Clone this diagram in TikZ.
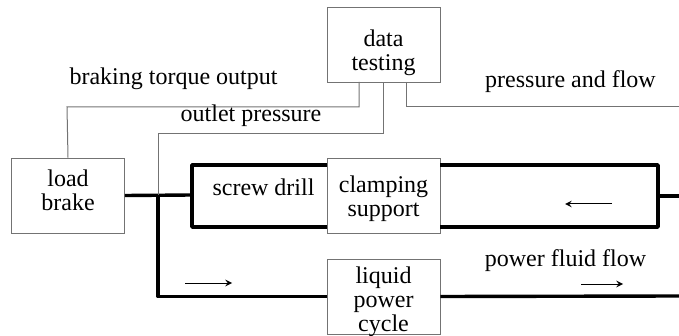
\documentclass[tikz,border=0pt]{standalone}
\usepackage{fontspec}
\setmainfont{Liberation Serif}
\usepackage{tikz}
\usetikzlibrary{calc}

\begin{document}
\begin{tikzpicture}[x=0.5pt, y=-0.5pt,
    block/.style={draw=black!55, minimum width=56.5pt, minimum height=37.5pt, inner sep=0pt},
    boxtext/.style={inner sep=0pt, align=center, font=\fontsize{12}{12}\selectfont},
    tag/.style={inner sep=0pt, font=\fontsize{12}{12}\selectfont},
    pipe/.style={line width=1.7pt, line join=round},
    signal/.style={black!55, line width=0.5pt},
    flow/.style={->, >=stealth, line width=0.5pt}]
        \useasboundingbox (0,0) rectangle (679,336);

        % 1. Boxes
        \node[block, label={[boxtext, yshift=-4pt]center:{data\\testing}}] (test) at (383.5,45) {};
        \node[block, label={[boxtext, yshift=2.5pt]center:{load\\brake}}] (brake) at (68,195.5) {};
        \node[block, label={[boxtext, yshift=-1.5pt]center:{clamping\\support}}] (clamp) at (383.5,195.5) {};
        \node[block, label={[boxtext, yshift=-2.5pt]center:{liquid\\power\\cycle}}] (cycle) at (383.5,296.5) {};

        % 2. Corners of the fluid lines
        \coordinate (jn) at (158,195);
        \coordinate (sl) at (192,195);
        \coordinate (tl) at (192,165);
        \coordinate (bl) at (192,227);
        \coordinate (tr) at (658,165);
        \coordinate (br) at (658,227);
        \coordinate (out) at (679,196);
        \coordinate (rt) at (679,296);

        % 3. Thick fluid lines
        \draw[pipe] (brake.east) -- (sl);
        \draw[pipe] (clamp.west |- tl) -- (tl) -- (bl) -- (clamp.west |- bl);
        \draw[pipe] (clamp.east |- tr) -- (tr) -- (br) -- (clamp.east |- br);
        \draw[pipe] (tr |- out) -- (out);
        \draw[pipe] (jn) |- (cycle.west);
        \draw[pipe] (cycle.east) -- (rt);

        % 4. Thin measuring lines to the data box
        \coordinate (bk) at (67,107);
        \coordinate (op) at (158,134);
        \coordinate (pf) at (679,107);
        \coordinate (t1) at (359,82);
        \coordinate (t3) at (406,82);
        \draw[signal] (brake.north) -- (bk) -| (t1);
        \draw[signal] (jn) -- (op) -| (test.south);
        \draw[signal] (t3) |- (pf);

        % 5. Flow direction arrows
        \draw[flow] (185,283) -- (232,283);
        \draw[flow] (612,204) -- (565,204);
        \draw[flow] (581,284) -- (623,284);

        % 6. Labels
        \node[tag] (torque) at (173.5,78.5) {braking torque output};
        \node[tag] (outlet) at (251,115.5) {outlet pressure};
        \node[tag] (press) at (570.5,82) {pressure and flow};
        \node[tag] (screw) at (263.5,187.5) {screw drill};
        \node[tag] (fluid) at (565.5,261) {power fluid flow};

    \end{tikzpicture}
\end{document}
